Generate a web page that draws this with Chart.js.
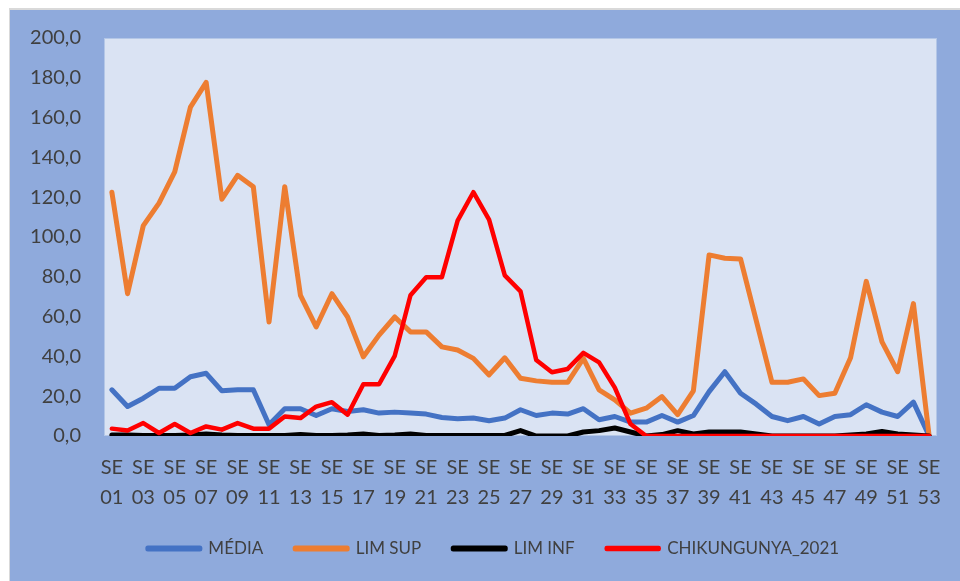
<!DOCTYPE html>
<html>
<head>
<meta charset="utf-8">
<script src="https://cdn.jsdelivr.net/npm/chart.js@4.4.1/dist/chart.umd.min.js"></script>
<style>
  html, body { margin: 0; padding: 0; background: #fff; }
  #wrap { width: 960px; height: 581px; position: relative; }
</style>
</head>
<body>
<div id="wrap"><canvas id="chikChart" width="960" height="581"></canvas></div>
<script>
// Semanas epidemiológicas
const weeks = Array.from({ length: 53 }, (_, i) => 'SE ' + String(i + 1).padStart(2, '0'));

// Series
const media = [23.2, 14.8, 19, 24, 24, 29.8, 31.5, 22.7, 23.2, 23.2, 5.7, 13.7, 13.7, 10.3, 13.7, 12.3, 13.2, 11.5, 12, 11.5,
  11, 9.3, 8.7, 9, 7.7, 9, 13.2, 10.3, 11.5, 11, 13.7, 8.2, 9.8, 7, 7, 10.3, 7, 10.3, 22.3, 32.3,
  21.5, 16, 9.8, 7.7, 9.8, 6, 9.8, 10.7, 15.7, 12, 9.8, 17, 0];
const limSup = [122.5, 71.5, 105.7, 117, 132.7, 165.3, 177.7, 119, 131, 125.3, 57.3, 125.3, 70.7, 54.8, 71.5, 59.8, 39.8, 50.7, 59.8, 52.3,
  52.3, 44.8, 43.2, 39, 30.7, 39.3, 29, 27.7, 27, 27, 39, 23.2, 18.2, 11.5, 14, 19.8, 10.7, 22.7, 91, 89.3,
  89, 58, 27, 27, 28.7, 20.3, 21.5, 39.3, 77.7, 47.3, 32.3, 66.5, 0];
const limInf = [0.5, 0.5, 0.3, 0.3, 0.3, 0.5, 1, 0.5, 0.3, 0.3, 0.3, 0.3, 0.8, 0.3, 0.3, 0.5, 1, 0.3, 0.5, 1,
  0.3, 0.3, 0.3, 0.3, 0.3, 0.3, 2.7, 0, 0, 0, 2, 2.7, 4, 2, 0, 0.7, 2.7, 1, 2, 2,
  2, 1, 0, 0, 0, 0, 0, 0.5, 1, 2.3, 1, 0.5, 0];
const chik2021 = [3.7, 2.8, 6.5, 1.5, 6, 1.5, 4.8, 3.2, 6.5, 3.7, 3.7, 9.8, 9, 14.8, 17, 10.7, 26, 26, 40.3, 70.7,
  79.8, 79.8, 108.2, 122.5, 108.7, 80.7, 72.7, 38.2, 32, 33.7, 41.8, 37, 24.3, 6, 0, 0, 0, 0, 0, 0,
  0, 0, 0, 0, 0, 0, 0, 0, 0, 0, 0, 0, 0];

// Eixo Y
const yMin = 0;
const yMax = 200;
const yStep = 20;

const textColor = '#404040';
const fontFamily = "Lato, 'Open Sans', 'Liberation Sans', sans-serif";

// Fundo externo e area do grafico
const backgroundPlugin = {
  id: 'backgrounds',
  beforeDraw(chart) {
    const { ctx, chartArea } = chart;
    ctx.save();
    ctx.fillStyle = '#ffffff';
    ctx.fillRect(0, 0, chart.width, chart.height);
    ctx.fillStyle = '#d9d9d9';
    ctx.fillRect(9, 8, chart.width - 9, chart.height - 8);
    ctx.fillStyle = '#8faadc';
    ctx.fillRect(10, 10, chart.width - 10, chart.height - 10);
    ctx.fillStyle = '#dae3f3';
    ctx.fillRect(chartArea.left, chartArea.top, chartArea.right - chartArea.left, chartArea.bottom - chartArea.top);
    ctx.strokeStyle = '#b4c7e7';
    ctx.lineWidth = 1;
    ctx.strokeRect(chartArea.left + 0.5, chartArea.top + 0.5, chartArea.right - chartArea.left - 1, chartArea.bottom - chartArea.top - 1);
    ctx.restore();
  }
};

// Legenda um pouco deslocada para a direita, como no original
const legendShift = {
  id: 'legendShift',
  afterLayout(chart) {
    chart.legend.left += 25;
    chart.legend.right += 25;
  }
};

function lineSet(label, data, color, width, order) {
  return {
    label: label,
    data: data,
    borderColor: color,
    backgroundColor: color,
    borderWidth: width,
    pointRadius: 0,
    tension: 0,
    borderJoinStyle: 'round',
    borderCapStyle: 'round',
    fill: false,
    order: order
  };
}

const ctx = document.getElementById('chikChart').getContext('2d');
new Chart(ctx, {
  type: 'line',
  data: {
    labels: weeks,
    datasets: [
      lineSet('MÉDIA', media, '#4472c4', 5, 3),
      lineSet('LIM SUP', limSup, '#ed7d31', 5, 2),
      lineSet('LIM INF', limInf, '#000000', 5, 1),
      lineSet('CHIKUNGUNYA_2021', chik2021, '#ff0000', 4.5, 0)
    ]
  },
  options: {
    responsive: false,
    animation: false,
    layout: { padding: { top: 38, right: 23, bottom: 14, left: 0 } },
    plugins: {
      legend: {
        position: 'bottom',
        labels: {
          boxWidth: 52,
          boxHeight: 1,
          padding: 32,
          color: textColor,
          font: { family: fontFamily, size: 17 },
          sort: (a, b) => a.datasetIndex - b.datasetIndex
        }
      },
      tooltip: { enabled: false }
    },
    scales: {
      x: {
        offset: true,
        grid: { display: false, drawTicks: false },
        border: { display: false },
        afterFit(scale) { scale.height = 72; },
        ticks: {
          autoSkip: false,
          maxRotation: 0,
          minRotation: 0,
          padding: 17,
          color: textColor,
          font: { family: fontFamily, size: 20, lineHeight: 1.5 },
          callback(value, index) {
            if (index % 2 !== 0) return '';
            return weeks[index].split(' ');
          }
        }
      },
      y: {
        min: yMin,
        max: yMax,
        grid: { display: false, drawTicks: false },
        border: { display: false },
        afterFit(scale) { scale.width = 104; },
        ticks: {
          stepSize: yStep,
          padding: 23,
          color: textColor,
          font: { family: fontFamily, size: 20 },
          callback: (v) => v.toFixed(1).replace('.', ',')
        }
      }
    }
  },
  plugins: [backgroundPlugin, legendShift]
});
</script>
</body>
</html>
